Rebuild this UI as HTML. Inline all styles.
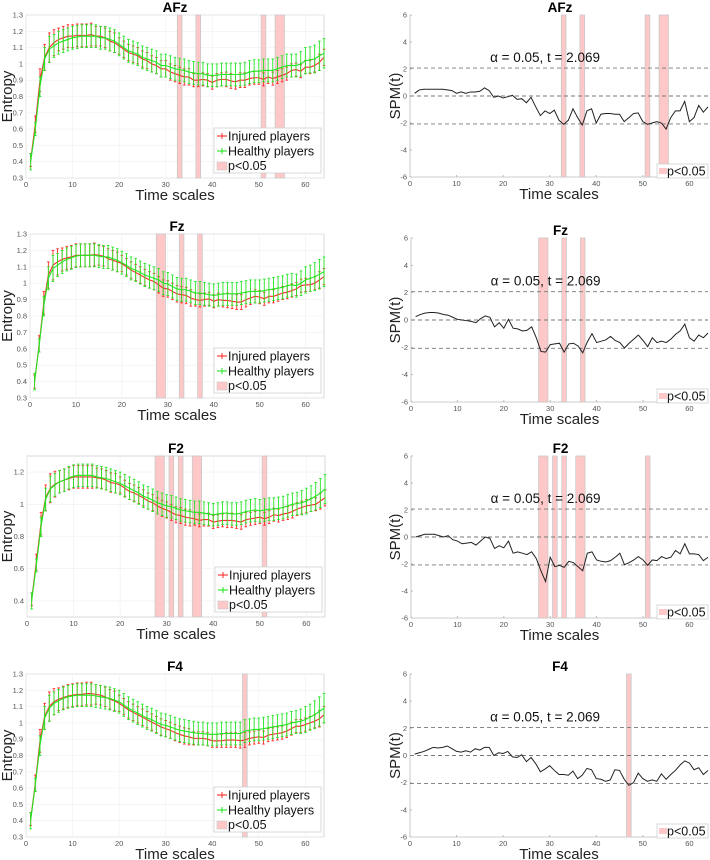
<!DOCTYPE html>
<html><head><meta charset="utf-8"><style>
html,body{margin:0;padding:0;background:#fff}
svg{display:block;font-family:"Liberation Sans",sans-serif}
</style></head><body>
<svg id="fig" width="710" height="860" viewBox="0 0 710 860"></svg>
<script>
// ===== data =====
const scales = Array.from({length:64},(_,i)=>i+1);
const afzInjured=[0.41,0.63,0.90,1.04,1.10,1.13,1.15,1.16,1.17,1.17,1.175,1.175,1.175,1.18,1.17,1.17,1.16,1.14,1.13,1.11,1.09,1.07,1.06,1.05,1.03,1.02,1.00,0.99,0.97,0.97,0.95,0.94,0.93,0.92,0.92,0.90,0.90,0.905,0.90,0.885,0.90,0.905,0.905,0.895,0.89,0.90,0.90,0.91,0.915,0.915,0.905,0.92,0.91,0.92,0.93,0.94,0.96,0.965,0.955,0.98,0.98,0.99,1.01,1.04];
const afzHealthy=[0.40,0.60,0.86,1.03,1.09,1.11,1.13,1.14,1.15,1.16,1.165,1.17,1.17,1.17,1.17,1.16,1.16,1.15,1.14,1.12,1.10,1.08,1.07,1.06,1.04,1.03,1.02,1.01,0.99,0.99,0.98,0.97,0.965,0.96,0.95,0.945,0.94,0.94,0.93,0.93,0.93,0.935,0.935,0.935,0.935,0.935,0.94,0.95,0.955,0.955,0.96,0.96,0.96,0.97,0.98,0.99,0.99,0.99,1.00,1.02,1.025,1.03,1.05,1.065];
const fzInjured=[0.40,0.63,0.88,1.05,1.11,1.13,1.145,1.155,1.16,1.17,1.17,1.17,1.17,1.175,1.17,1.165,1.15,1.14,1.13,1.12,1.10,1.08,1.065,1.05,1.035,1.02,1.01,0.99,0.97,0.965,0.95,0.935,0.93,0.925,0.91,0.90,0.895,0.90,0.905,0.89,0.90,0.895,0.895,0.89,0.885,0.885,0.90,0.91,0.92,0.915,0.905,0.92,0.92,0.93,0.94,0.945,0.955,0.965,0.985,0.99,0.99,1.00,1.02,1.04];
const fzHealthy=[0.40,0.62,0.86,1.03,1.09,1.11,1.13,1.145,1.155,1.165,1.17,1.17,1.17,1.17,1.165,1.16,1.16,1.15,1.14,1.125,1.11,1.09,1.08,1.065,1.05,1.04,1.03,1.02,1.00,0.995,0.98,0.965,0.96,0.96,0.95,0.94,0.94,0.935,0.93,0.925,0.93,0.935,0.935,0.935,0.935,0.94,0.945,0.95,0.95,0.95,0.955,0.96,0.965,0.97,0.975,0.985,0.99,0.985,1.00,1.02,1.03,1.04,1.055,1.07];
const f2Injured=[0.41,0.64,0.88,1.04,1.10,1.125,1.14,1.15,1.16,1.17,1.17,1.17,1.17,1.17,1.165,1.16,1.15,1.135,1.13,1.12,1.10,1.08,1.07,1.055,1.04,1.02,1.01,0.99,0.975,0.965,0.95,0.935,0.93,0.92,0.915,0.91,0.90,0.905,0.905,0.89,0.895,0.90,0.90,0.90,0.895,0.89,0.905,0.91,0.915,0.92,0.91,0.92,0.935,0.93,0.94,0.945,0.955,0.97,0.98,0.99,0.995,1.00,1.02,1.04];
const f2Healthy=[0.40,0.62,0.86,1.03,1.095,1.12,1.14,1.15,1.165,1.175,1.18,1.18,1.18,1.18,1.17,1.165,1.16,1.15,1.14,1.13,1.115,1.10,1.085,1.07,1.05,1.04,1.025,1.01,1.00,0.99,0.985,0.975,0.965,0.96,0.955,0.95,0.95,0.945,0.94,0.935,0.94,0.945,0.945,0.94,0.94,0.945,0.955,0.96,0.965,0.96,0.965,0.97,0.97,0.975,0.98,0.99,1.00,1.005,1.01,1.02,1.035,1.05,1.07,1.095];
const f4Injured=[0.41,0.63,0.89,1.04,1.10,1.13,1.145,1.155,1.165,1.17,1.175,1.175,1.18,1.18,1.175,1.17,1.16,1.145,1.135,1.12,1.10,1.08,1.065,1.05,1.035,1.02,1.005,0.99,0.975,0.965,0.955,0.94,0.93,0.92,0.915,0.905,0.905,0.905,0.90,0.89,0.89,0.89,0.895,0.895,0.895,0.89,0.895,0.905,0.91,0.915,0.91,0.925,0.93,0.935,0.94,0.95,0.965,0.98,0.98,0.99,1.00,1.01,1.025,1.05];
const f4Healthy=[0.40,0.62,0.86,1.03,1.09,1.12,1.135,1.15,1.16,1.165,1.17,1.17,1.17,1.17,1.165,1.16,1.155,1.15,1.14,1.13,1.11,1.09,1.075,1.06,1.045,1.03,1.02,1.005,0.99,0.985,0.975,0.965,0.955,0.95,0.945,0.94,0.935,0.935,0.93,0.93,0.93,0.935,0.935,0.935,0.935,0.935,0.95,0.955,0.96,0.96,0.965,0.97,0.975,0.98,0.985,0.99,1.00,1.005,1.01,1.02,1.035,1.05,1.07,1.09];
const errInjured=[0.04,0.05,0.07,0.08,0.09,0.08,0.07,0.07,0.07,0.07,0.07,0.07,0.07,0.07,0.06,0.06,0.06,0.06,0.06,0.05,0.05,0.05,0.05,0.05,0.05,0.05,0.05,0.05,0.05,0.05,0.05,0.05,0.05,0.05,0.05,0.04,0.04,0.04,0.04,0.04,0.04,0.04,0.045,0.045,0.045,0.045,0.045,0.04,0.04,0.04,0.04,0.04,0.04,0.04,0.04,0.04,0.04,0.04,0.04,0.04,0.04,0.04,0.05,0.05];
const errHealthy=[0.05,0.04,0.06,0.07,0.08,0.07,0.07,0.07,0.07,0.07,0.07,0.07,0.07,0.07,0.07,0.07,0.07,0.07,0.07,0.07,0.07,0.07,0.07,0.07,0.07,0.07,0.07,0.07,0.07,0.07,0.07,0.07,0.07,0.07,0.07,0.07,0.07,0.07,0.07,0.07,0.07,0.07,0.07,0.07,0.07,0.07,0.07,0.07,0.07,0.07,0.07,0.07,0.07,0.07,0.07,0.07,0.07,0.07,0.075,0.08,0.08,0.085,0.09,0.09];
const afzSpm=[0.2,0.45,0.5,0.5,0.5,0.5,0.5,0.45,0.4,0.2,0.3,0.2,0.3,0.3,0.35,0.6,0.4,-0.1,0,-0.15,-0.05,0.05,-0.25,-0.2,-0.5,-0.1,-0.8,-1.45,-1.1,-1.3,-1.05,-1.8,-2.1,-1.8,-0.95,-1.6,-2.15,-1.1,-0.95,-2.0,-1.35,-1.3,-1.3,-1.35,-1.35,-1.9,-1.6,-1.3,-1.25,-1.9,-2.1,-2.0,-1.9,-2.0,-2.45,-1.6,-1.1,-1.1,-0.4,-1.9,-1.6,-0.7,-1.2,-0.8];
const fzSpm=[0.25,0.4,0.5,0.55,0.55,0.5,0.4,0.35,0.2,0.05,0,-0.05,-0.1,-0.2,0.1,0.3,0.2,-0.5,-0.2,-0.6,0.05,-0.6,-0.65,-0.8,-0.75,-0.5,-1.3,-2.3,-2.35,-1.8,-1.75,-1.7,-2.35,-1.75,-1.7,-1.9,-2.4,-1.6,-1.0,-1.65,-1.55,-1.45,-1.2,-1.5,-1.65,-2.05,-1.7,-1.4,-1.1,-1.5,-1.95,-1.3,-1.65,-1.55,-1.65,-1.4,-1.05,-0.8,-0.3,-1.3,-1.55,-1.1,-1.3,-0.95];
const f2Spm=[0,0.1,0.2,0.2,0.2,0.1,0,0.1,-0.2,-0.3,-0.5,-0.45,-0.4,-0.6,-0.3,0,-0.1,-0.85,-0.65,-0.8,-0.3,-1.2,-1.1,-1.2,-1.3,-1.1,-1.6,-2.5,-3.3,-1.5,-2.2,-2.1,-2.25,-1.8,-1.9,-2.2,-2.5,-1.2,-1.1,-1.7,-1.8,-1.85,-1.75,-1.5,-1.2,-2.05,-1.9,-1.7,-1.45,-1.7,-2.1,-1.7,-1.75,-1.45,-1.6,-1.5,-1.0,-1.25,-0.5,-1.25,-1.25,-1.3,-1.75,-1.5];
const f4Spm=[0.1,0.2,0.3,0.45,0.6,0.55,0.6,0.7,0.5,0.3,0.25,0.35,0.25,0.5,0.4,0.6,0.6,0,0.2,0.15,0.3,-0.1,-0.15,0.05,-0.45,-0.15,-0.6,-1.2,-1.0,-0.75,-1.1,-1.4,-1.4,-1.45,-1.15,-1.7,-1.45,-0.95,-1.05,-1.7,-1.75,-1.9,-1.8,-1.05,-1.1,-1.75,-2.2,-2.0,-1.3,-1.7,-1.9,-1.8,-1.9,-1.35,-1.75,-1.4,-1.1,-0.7,-0.4,-0.55,-1.05,-0.9,-1.4,-1.1];
const afzSig=[[32.5,33.5],[36.5,37.5],[50.5,51.5],[53.5,55.5]];
const fzSig=[[27.5,29.5],[32.5,33.5],[36.5,37.5]];
const f2Sig=[[27.5,29.5],[30.5,31.5],[32.5,33.5],[35.5,37.5],[50.5,51.5]];
const f4Sig=[[46.5,47.5]];
const threshold=2.069;
const entTicksFull=[0.3,0.4,0.5,0.6,0.7,0.8,0.9,1,1.1,1.2,1.3];
const entTicksEven=[0.4,0.6,0.8,1,1.2];
const spmTicks=[-6,-4,-2,0,2,4,6];
const xTicks=[0,10,20,30,40,50,60];

// ===== drawing =====
const NS='http://www.w3.org/2000/svg';
const svg=document.getElementById('fig');
function mk(tag,attrs,parent){const e=document.createElementNS(NS,tag);for(const k in attrs)e.setAttribute(k,attrs[k]);(parent||svg).appendChild(e);return e;}
function fmt(v){return String(Math.round(v*10)/10);}

const panels=[
 {name:'AFz',inj:afzInjured,hea:afzHealthy,spm:afzSpm,sig:afzSig,ticks:entTicksFull,L:[26,15,324,178],R:[410,15,708,177]},
 {name:'Fz',inj:fzInjured,hea:fzHealthy,spm:fzSpm,sig:fzSig,ticks:entTicksFull,L:[30,234,324,398],R:[411,238,708,402]},
 {name:'F2',inj:f2Injured,hea:f2Healthy,spm:f2Spm,sig:f2Sig,ticks:entTicksEven,L:[27,456,325,617],R:[411,456,708,618]},
 {name:'F4',inj:f4Injured,hea:f4Healthy,spm:f4Spm,sig:f4Sig,ticks:entTicksFull,L:[26,674,324,837],R:[410,674,708,837]}
];

panels.forEach(p=>{
 const key=p.name.toLowerCase();
 // ---- left entropy plot ----
 const [x0,y0,x1,y1]=p.L;
 const g=mk('g',{});
 
 
 const sx=v=>x0+(x1-x0)*v/64;
 const sy=v=>y1-(y1-y0)*(v-0.3)/1.0;
 mk('rect',{x:x0,y:y0,width:x1-x0,height:y1-y0,fill:'#fff',stroke:'#d0d0d0','stroke-width':0.8},g);
 xTicks.forEach(t=>{mk('line',{x1:sx(t),x2:sx(t),y1:y0,y2:y1,stroke:'#efefef','stroke-width':0.6},g);
  const tx=mk('text',{x:sx(t),y:y1+9,'font-size':7.5,fill:'#555','text-anchor':'middle'},g);tx.textContent=t;
  });
 p.ticks.forEach(t=>{mk('line',{x1:x0,x2:x1,y1:sy(t),y2:sy(t),stroke:'#efefef','stroke-width':0.6},g);
  const ty=mk('text',{x:x0-3,y:sy(t)+2.5,'font-size':7.5,fill:'#555','text-anchor':'end'},g);ty.textContent=fmt(t);
  });
 p.sig.forEach(s=>{const r=mk('rect',{x:sx(s[0]),y:y0,width:sx(s[1])-sx(s[0]),height:y1-y0,fill:'#ffc8c8',stroke:'#c8c8c8','stroke-width':0.8},g);
  });
 [[p.inj,errInjured,'#ff2a2a','injured'],[p.hea,errHealthy,'#22e622','healthy']].forEach(([vals,err,col,nm])=>{
  const eg=mk('g',{stroke:col,'stroke-width':0.9},g);
  
  vals.forEach((v,i)=>{const x=sx(scales[i]);const a=sy(v+err[i]),b=sy(v-err[i]);
   mk('line',{x1:x,x2:x,y1:a,y2:b},eg);mk('line',{x1:x-1.3,x2:x+1.3,y1:a,y2:a},eg);mk('line',{x1:x-1.3,x2:x+1.3,y1:b,y2:b},eg);});
  const ln=mk('polyline',{points:vals.map((v,i)=>sx(scales[i])+','+sy(v)).join(' '),fill:'none',stroke:col,'stroke-width':1.1},g);
  
 });
 // legend
 const lx=x1-110,ly=y1-50;
 const lg=mk('g',{},g);
 mk('rect',{x:lx,y:ly,width:107,height:45,fill:'#fff',stroke:'#d0d0d0','stroke-width':0.8},lg);
 [['Injured players','#ff2a2a'],['Healthy players','#22e622']].forEach(([t,c],k)=>{const yy=ly+8+k*15;
  mk('line',{x1:lx+3,x2:lx+13,y1:yy,y2:yy,stroke:c,'stroke-width':1.1},lg);mk('line',{x1:lx+8,x2:lx+8,y1:yy-3,y2:yy+3,stroke:c,'stroke-width':1},lg);
  const tt=mk('text',{x:lx+14,y:yy+4.5,'font-size':12.5,fill:'#111'},lg);tt.textContent=t;
  });
 mk('rect',{x:lx+3,y:ly+34,width:10,height:8,fill:'#ffc8c8',stroke:'#c8c8c8','stroke-width':0.6},lg);
 const tp=mk('text',{x:lx+14,y:ly+42,'font-size':12.5,fill:'#111'},lg);tp.textContent='p<0.05';
 const tl=mk('text',{x:(x0+x1)/2,y:y0-3,'font-size':13.5,'font-weight':'bold','text-anchor':'middle',fill:'#000'},g);tl.textContent=p.name;
 
 const xl=mk('text',{x:(x0+x1)/2,y:y1+22,'font-size':15,'text-anchor':'middle',fill:'#222'},g);xl.textContent='Time scales';
 
 const yl=mk('text',{x:0,y:0,'font-size':15,'text-anchor':'middle',fill:'#222',transform:`translate(12,${(y0+y1)/2}) rotate(-90)`},g);yl.textContent='Entropy';
 

 // ---- right SPM plot ----
 const [u0,v0,u1,v1]=p.R;
 const h=mk('g',{});
 
 
 const tx=v=>u0+(u1-u0)*v/64;
 const ty=v=>v1-(v1-v0)*(v+6)/12;
 mk('line',{x1:u0,x2:u0,y1:v0,y2:v1,stroke:'#bbb','stroke-width':0.8},h);
 mk('line',{x1:u0,x2:u1,y1:v1,y2:v1,stroke:'#bbb','stroke-width':0.8},h);
 xTicks.forEach(t=>{const e=mk('text',{x:tx(t),y:v1+9,'font-size':7.5,fill:'#555','text-anchor':'middle'},h);e.textContent=t;
  
  mk('line',{x1:tx(t),x2:tx(t),y1:v1,y2:v1-2,stroke:'#bbb'},h);});
 spmTicks.forEach(t=>{const e=mk('text',{x:u0-3,y:ty(t)+2.5,'font-size':7.5,fill:'#555','text-anchor':'end'},h);e.textContent=t;
  
  mk('line',{x1:u0,x2:u0+2,y1:ty(t),y2:ty(t),stroke:'#bbb'},h);});
 p.sig.forEach(s=>{const r=mk('rect',{x:tx(s[0]),y:v0,width:tx(s[1])-tx(s[0]),height:v1-v0,fill:'#ffc8c8',stroke:'#c8c8c8','stroke-width':0.8},h);
  });
 [threshold,0,-threshold].forEach(t=>{const d=mk('line',{x1:u0,x2:u1,y1:ty(t),y2:ty(t),stroke:'#777','stroke-width':0.9,'stroke-dasharray':'4,3'},h);
  });
 const sl=mk('polyline',{points:p.spm.map((v,i)=>tx(scales[i])+','+ty(v)).join(' '),fill:'none',stroke:'#222','stroke-width':1},h);
 
 const at=mk('text',{x:tx(29),y:ty(threshold)-6,'font-size':13.5,'text-anchor':'middle',fill:'#111'},h);at.textContent='α = 0.05, t = '+threshold;
 
 const rg=mk('g',{},h);
 mk('rect',{x:u1-51,y:v1-13,width:51,height:14,fill:'#fff',stroke:'#d0d0d0','stroke-width':0.8},rg);
 mk('rect',{x:u1-49,y:v1-9,width:8,height:6,fill:'#ffc8c8'},rg);
 const rp=mk('text',{x:u1-41,y:v1-1.5,'font-size':12.5,fill:'#111'},rg);rp.textContent='p<0.05';
 const t2=mk('text',{x:(u0+u1)/2+1,y:v0-3,'font-size':13.5,'font-weight':'bold','text-anchor':'middle',fill:'#000'},h);t2.textContent=p.name;
 
 const x2=mk('text',{x:(u0+u1)/2,y:v1+22,'font-size':15,'text-anchor':'middle',fill:'#222'},h);x2.textContent='Time scales';
 
 const y2=mk('text',{x:0,y:0,'font-size':15,'text-anchor':'middle',fill:'#222',transform:`translate(400,${(v0+v1)/2}) rotate(-90)`},h);y2.textContent='SPM(t)';
 
});
</script>
</body></html>
